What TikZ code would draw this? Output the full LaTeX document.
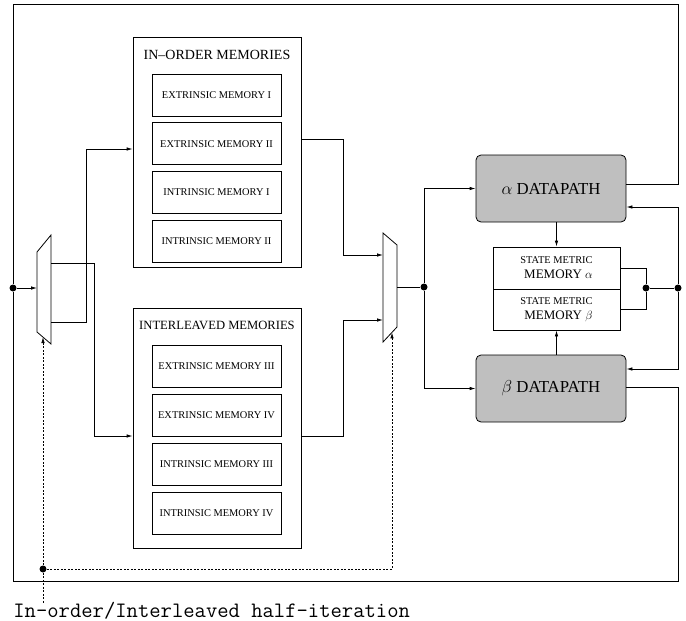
\documentclass[tikz,border=0pt]{standalone}
\usepackage{fontspec}
\setmainfont{Liberation Serif}
\usetikzlibrary{positioning, arrows.meta}

\tikzset{
  mem/.style={draw, minimum width=129pt, minimum height=42pt, inner sep=0pt, font=\fontsize{10.4}{12}\selectfont},
  bank/.style={draw, minimum width=168pt, inner sep=0pt},
  banktitle/.style={font=\fontsize{14}{16}\selectfont},
  dpath/.style={draw, rounded corners=5pt, fill=black!25, minimum width=150pt, minimum height=67pt, font=\fontsize{16.8}{20}\selectfont},
  smem/.style={draw, minimum width=127pt, inner sep=0pt, align=center},
  dot/.style={circle, fill, inner sep=0pt, minimum size=7pt},
  sel/.style={dash pattern=on 2pt off 1.5pt},
}
\newcommand{\smtop}{\fontsize{10.4}{17}\selectfont STATE METRIC}
\newcommand{\smbot}[1]{\fontsize{13}{17}\selectfont\hspace*{4pt}MEMORY $#1$}

\begin{document}
\begin{tikzpicture}[x=1pt, y=-1pt, line width=0.8pt, >={Latex[length=6pt,width=3.5pt]}]
  \useasboundingbox (0,0) rectangle (686,621);

  \node[bank, minimum height=230pt] (io) at (217,152) {};
  \node[banktitle] (iot) at ([yshift=-18pt]io.north) {IN--ORDER MEMORIES};
  \node[mem] (e1) at (216.5,95) {EXTRINSIC MEMORY I};
  \node[mem, below=6pt of e1] (e2) {EXTRINSIC MEMORY II};
  \node[mem, below=6pt of e2] (i1) {INTRINSIC MEMORY I};
  \node[mem, below=6pt of i1] (i2) {INTRINSIC MEMORY II};

  \node[bank, minimum height=240pt] (il) at (217,428) {};
  \node[banktitle, font=\fontsize{12.6}{15}\selectfont] (ilt) at ([yshift=-18pt]il.north) {INTERLEAVED MEMORIES};
  \node[mem] (e3) at (216.5,366.5) {EXTRINSIC MEMORY III};
  \node[mem, below=6pt of e3] (e4) {EXTRINSIC MEMORY IV};
  \node[mem, below=6pt of e4] (i3) {INTRINSIC MEMORY III};
  \node[mem, below=6pt of i3] (i4) {INTRINSIC MEMORY IV};

  \node[dpath] (alpha) at (551,188.5) {$\alpha$ DATAPATH};
  \node[dpath] (beta) at (551,388.5) {$\beta$ DATAPATH};
  \node[smem, minimum height=42pt] (sma) at (556.5,268) {\smtop\\[3pt]\smbot{\alpha}};
  \node[smem, minimum height=41pt] (smb) at (556.5,309.5) {\smtop\\[3pt]\smbot{\beta}};

  \draw (37,252) -- (51,235) -- (51,344) -- (37,332) -- cycle;
  \coordinate (m1in) at (37,288);
  \coordinate (m1a) at (51,263);
  \coordinate (m1b) at (51,322);
  \coordinate (m1s) at (43,337);
  \draw (383,233) -- (397,245) -- (397,327) -- (383,342) -- cycle;
  \coordinate (m2a) at (383,255);
  \coordinate (m2b) at (383,320);
  \coordinate (m2out) at (397,287);
  \coordinate (m2s) at (392,332.4);

  \node[dot] (din) at (13,288) {};
  \node[dot] (dsplit) at (424,287) {};
  \node[dot] (dsm) at (646,288) {};
  \node[dot] (dfb) at (678,288) {};
  \node[dot] (dsel) at (43,569) {};
  \coordinate (ctop) at (678,4);
  \coordinate (cbot) at (678,581);
  \coordinate (selend) at (43,603);

  \draw ([yshift=4.5pt]alpha.east) -| (ctop) -| (din);
  \draw ([yshift=1.5pt]beta.east) -| (cbot) -| (din);
  \draw[->] (din) -- (m1in);
  \draw[->] (m1a) -- ++(43,0) |- ([yshift=-8pt]il.west);
  \draw[->] (m1b) -- ++(35,0) |- ([yshift=3pt]io.west);
  \draw[->] ([yshift=13pt]io.east) -- ++(42,0) |- (m2a);
  \draw[->] ([yshift=-8pt]il.east) -- ++(42,0) |- (m2b);
  \draw (m2out) -- (dsplit);
  \draw[->] (dsplit) |- (alpha.west);
  \draw[->] (dsplit) |- (beta.west);
  \draw[->] (alpha.south -| sma.north) -- (sma.north);
  \draw[->] (beta.north -| smb.south) -- (smb.south);
  \draw (sma.east) -| (dsm) |- (smb.east);
  \draw (dsm) -- (dfb);
  \draw[->] (dfb) |- ([yshift=-18.5pt]alpha.east);
  \draw[->] (dfb) |- ([yshift=19.5pt]beta.east);

  \draw[sel,->] (dsel) -- (m1s);
  \draw[sel,->] (dsel) -| (m2s);
  \draw[sel] (dsel) -- (selend);
  \node[font=\fontsize{22}{24}\ttfamily, anchor=base west, inner sep=0pt] (cap) at (13,617) {In-order/Interleaved half-iteration};
\end{tikzpicture}
\end{document}
